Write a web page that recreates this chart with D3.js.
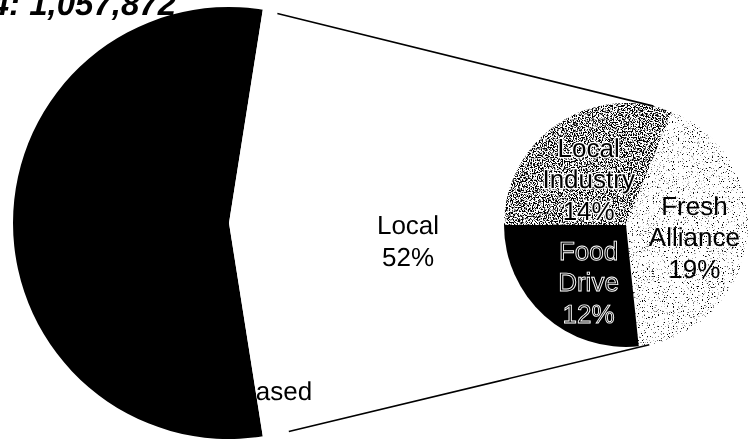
<!DOCTYPE html>
<html>
<head>
<meta charset="utf-8">
<script src="https://cdn.jsdelivr.net/npm/d3@7"></script>
<style>
  body { margin: 0; background: #fff; }
  svg { display: block; filter: grayscale(1); }
  text { text-rendering: geometricPrecision; }
</style>
</head>
<body>
<div id="chart"></div>
<script>
// main pie: purchased vs local (local is split in the second pie)
var mainNames = ["Purchased", "Local"];
var purchasedValue = 55;
var localLabel = "52%";

// second pie (share of total, %)
var subNames = ["Local Industry", "Fresh Alliance", "Food Drive"];
var subValues = [14, 19, 12];

var titleText = "2004: 1,057,872";

var W = 752, H = 439;
var svg = d3.select("#chart").append("svg")
  .attr("width", W).attr("height", H)
  .style("font-family", "'Liberation Sans', Arial, sans-serif");

// stipple fills made with noise
var defs = svg.append("defs");
function stipple(id, seed, slope, intercept) {
  var f = defs.append("filter").attr("id", id)
    .attr("x", 0).attr("y", 0).attr("width", 1).attr("height", 1)
    .attr("color-interpolation-filters", "sRGB");
  f.append("feTurbulence").attr("type", "fractalNoise")
    .attr("baseFrequency", 0.8).attr("numOctaves", 2).attr("seed", seed).attr("result", "noise");
  f.append("feColorMatrix").attr("in", "noise").attr("type", "matrix")
    .attr("values", "0 0 0 0 0  0 0 0 0 0  0 0 0 0 0  1 0 0 0 0").attr("result", "a");
  var ct = f.append("feComponentTransfer").attr("in", "a").attr("result", "dots");
  ct.append("feFuncA").attr("type", "linear").attr("slope", slope).attr("intercept", intercept);
  f.append("feComposite").attr("in", "dots").attr("in2", "SourceGraphic").attr("operator", "in").attr("result", "clip");
  var m = f.append("feMerge");
  m.append("feMergeNode").attr("in", "SourceGraphic");
  m.append("feMergeNode").attr("in", "clip");
}
stipple("dense", 3, 9, -4.2);
stipple("sparse", 7, 9, -5.6);

var subTotal = d3.sum(subValues);
var mainValues = [purchasedValue, subTotal];

// main pie
var c1 = {x: 229, y: 223}, r1 = 216;
var localSpan = subTotal / (subTotal + purchasedValue) * 2 * Math.PI;
var mainPie = d3.pie().sort(null).value(function(d) { return d; })
  .startAngle(Math.PI / 2 + localSpan / 2)
  .endAngle(Math.PI / 2 + localSpan / 2 + 2 * Math.PI);
var mainArcs = mainPie(mainValues);
var arc1 = d3.arc().innerRadius(0).outerRadius(r1);

var g1 = svg.append("g").attr("transform", "translate(" + c1.x + "," + c1.y + ")");
g1.selectAll("path").data(mainArcs).enter().append("path")
  .attr("d", arc1)
  .attr("fill", function(d, i) { return i === 0 ? "#000" : "#fff"; });

// second pie
var c2 = {x: 626, y: 225}, r2 = 122;
var subPie = d3.pie().sort(null).value(function(d) { return d; })
  .startAngle(-Math.PI / 2).endAngle(1.5 * Math.PI);
var subArcs = subPie(subValues);
var arc2 = d3.arc().innerRadius(0).outerRadius(r2);
var fills = ["url(#dense)", "url(#sparse)", null];

var g2 = svg.append("g").attr("transform", "translate(" + c2.x + "," + c2.y + ")");
g2.selectAll("path").data(subArcs).enter().append("path")
  .attr("d", arc2)
  .attr("fill", function(d, i) { return i === 2 ? "#000" : "#fff"; })
  .attr("filter", function(d, i) { return fills[i]; });

// connector lines, from the local slice edges to the second pie
function pt(c, r, a) { return [c.x + r * Math.sin(a), c.y - r * Math.cos(a)]; }
var deg = Math.PI / 180;
var lines = [
  [pt(c1, r1 - 1, Math.PI / 2 - localSpan / 2 + 4 * deg), pt(c2, r2, 13 * deg)],
  [pt(c1, r1 + 1, Math.PI / 2 + localSpan / 2 - 7 * deg), pt(c2, r2, 169 * deg)]
];
svg.selectAll("line.conn").data(lines).enter().append("line")
  .attr("class", "conn")
  .attr("x1", function(d) { return d[0][0]; }).attr("y1", function(d) { return d[0][1]; })
  .attr("x2", function(d) { return d[1][0]; }).attr("y2", function(d) { return d[1][1]; })
  .attr("stroke", "#000").attr("stroke-width", 1.6);

// labels
function block(g, x, y, rows, style) {
  var t = g.append("text").attr("text-anchor", "middle")
    .attr("font-size", 26).attr("x", x).attr("y", y);
  var lh = 31.5;
  rows.forEach(function(s, i) {
    t.append("tspan").attr("x", x)
      .attr("y", y - (rows.length - 1) * lh / 2 + i * lh + 9)
      .text(s);
  });
  if (style) style(t);
  return t;
}

block(g1, 179, 18, ["Local", localLabel]);
block(g1, 21, 168, [mainNames[0]]);

var lab2 = d3.arc().innerRadius(0).outerRadius(130);
var nudge = [[-1, 8], [4, 3], [6, 9]];
subArcs.forEach(function(d, i) {
  var p = lab2.centroid(d);
  var words = subNames[i].split(" ");
  var pct = Math.round(subValues[i]) + "%";
  block(g2, p[0] + nudge[i][0], p[1] + nudge[i][1], words.concat([pct]), function(t) {
    if (i === 0) {
      t.attr("fill", "#000").attr("stroke", "#fff").attr("stroke-width", 2.5)
        .attr("paint-order", "stroke");
    } else if (i === 2) {
      t.attr("fill", "#000").attr("stroke", "#fff").attr("stroke-width", 0.9);
    } else {
      t.attr("fill", "#000");
    }
  });
});

// title, cut at the top-left like the source
svg.append("text")
  .attr("x", 176).attr("y", 15)
  .attr("text-anchor", "end")
  .attr("font-size", 33).attr("font-weight", "bold").attr("font-style", "italic")
  .text(titleText);
</script>
</body>
</html>
